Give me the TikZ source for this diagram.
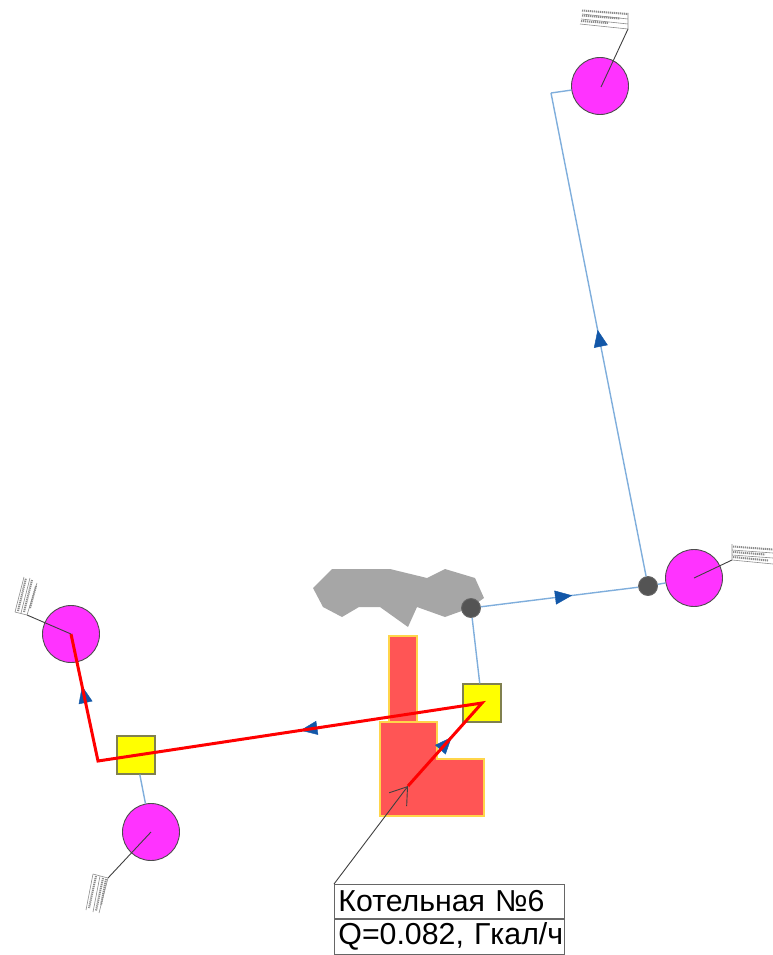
\documentclass[tikz,border=0pt]{standalone}
\usepackage{fontspec}
\setmainfont{Liberation Sans}
\usetikzlibrary{arrows.meta,decorations.markings}
\definecolor{pipeblue}{HTML}{7FAEDC}
\definecolor{flowblue}{HTML}{1257A8}
\definecolor{bldred}{HTML}{FF5555}
\definecolor{bldedge}{HTML}{FFD54A}
\definecolor{pinkfill}{HTML}{FF33FF}
\definecolor{boxedge}{HTML}{80804F}
\definecolor{chamberfill}{HTML}{FFFF00}
\tikzset{
  consumer/.style={circle,draw=black!70,line width=.9pt,fill=pinkfill,minimum size=57pt,inner sep=0pt},
  junction/.style={circle,draw=black!60,line width=.9pt,fill=black!67,minimum size=19pt,inner sep=0pt},
  chamber/.style={rectangle,draw=boxedge,line width=1.1pt,fill=chamberfill,minimum size=38pt,inner sep=0pt},
  blob/.style={fill=black!35,draw=none},
  building/.style={fill=bldred,draw=bldedge,line width=1.2pt},
  pipeline/.style={draw=pipeblue,line width=1.4pt},
  hotline/.style={draw=red,line width=3pt,line join=miter},
  leader/.style={draw=black!75,line width=.9pt},
  tagrule/.style={draw=black!45,line width=.6pt},
  tagtext/.style={draw=black!45,line width=2pt,dash pattern=on 1.2pt off .8pt},
  flow/.style={decoration={markings,mark=at position #1 with {\arrow[flowblue]{Triangle[length=17pt,width=14pt]}}},postaction=decorate},
  labelcell/.style={rectangle,draw=black!60,line width=.9pt,fill=white,minimum width=230pt,inner ysep=0pt,inner xsep=4pt,font=\fontsize{30.3}{32}\selectfont,align=left,text width=222pt},
}
\begin{document}
\begin{tikzpicture}[x=1pt,y=-1pt]
\useasboundingbox (0,0) rectangle (773,955);
% surroundings
\fill[blob] (332,569)--(390,569)--(427,578)--(445,569)--(475,578)--(484,598)--(470,608)--(445,617)--(417,607)--(408,627)--(380,607)--(359,607)--(342,617)--(323,607)--(313,588)--cycle;
\filldraw[building] (389,636) rectangle (417,722);
\filldraw[building] (380,722)--(437,722)--(437,759)--(484,759)--(484,816)--(380,816)--cycle;
% nodes
\node[consumer] (top) at (600,86) {};
\node[consumer] (right) at (694,578) {};
\node[consumer] (left) at (71,634) {};
\node[consumer] (bottom) at (151,832) {};
\node[junction] (j1) at (471,608) {};
\node[junction] (j2) at (648,586) {};
\node[chamber] (s1) at (482,703) {};
\node[chamber] (s2) at (136,755) {};
\coordinate (bend1) at (551,93);
\coordinate (bend2) at (98,761);
\coordinate (plant) at (408,786);
% blue network
\draw[pipeline] (top) -- (bend1);
\draw[pipeline] (bend1) -- (j2);
\draw[pipeline] (j2) -- (right);
\draw[pipeline] (j1) -- (j2);
\draw[pipeline] (j1) -- (s1);
\draw[pipeline] (s2) -- (bottom);
% flow arrows
\path[flow=.51] (j2) -- (bend1);
\path[flow=.58] (j1) -- (j2);
\path[flow=.473] (s1.center) -- (bend2);
\path[flow=.59] (bend2) -- (left.center);
\path[flow=.59] (plant) -- (s1.center);
% red network
\draw[hotline] (plant) -- (s1.center) -- (bend2) -- (left.center);
% label
\node[labelcell,anchor=north west,minimum height=34pt] (l1) at (334,884) {\mbox{Котельная №6}};
\node[labelcell,anchor=north west,minimum height=35pt] (l2) at (l1.south west) {\mbox{Q=0.082, Гкал/ч}};
\draw[leader,-{Straight Barb[length=16pt,width=22pt]}] (l1.north west) -- (plant);
% top tag
\coordinate (t1) at (628,29);
\draw[leader] (top.center) ++(1,1) -- (t1);
\draw[tagrule] (628,13) -- (t1) (580,24) -- (t1) (581,19) -- (628,24) (582,14) -- (628,19);
\draw[tagtext] (582,10.5) -- (628,14) (582,15.5) -- (620,18.5) (581,21) -- (608,23);
% right tag
\coordinate (t2) at (732,560);
\draw[leader] (right.center) -- (t2);
\draw[tagrule] (732,544) -- (t2) -- (773,564) (732,550) -- (773,553) (732,555) -- (773,558);
\draw[tagtext] (733,546.5) -- (773,549.5) (733,552) -- (765,554.5) (733,557) -- (768,560.5);
% left tag
\coordinate (t3) at (27,615);
\draw[leader] (left.center) -- (t3);
\draw[tagrule] (15,612) -- (t3) -- (37,583) (21,613) -- (30,578) (15,612) -- (24,577);
\draw[tagtext] (18,611) -- (26,578) (24,612) -- (32,580) (30,608) -- (36,586);
% bottom tag
\coordinate (t4) at (108,878);
\draw[leader] (bottom.center) -- (t4);
\draw[tagrule] (93,874) -- (t4) -- (99,913) (100,876) -- (93,912) (93,874) -- (86,910);
\draw[tagtext] (96,876) -- (89,908) (103,878) -- (96,911) (106,879) -- (101,905);
\end{tikzpicture}
\end{document}
